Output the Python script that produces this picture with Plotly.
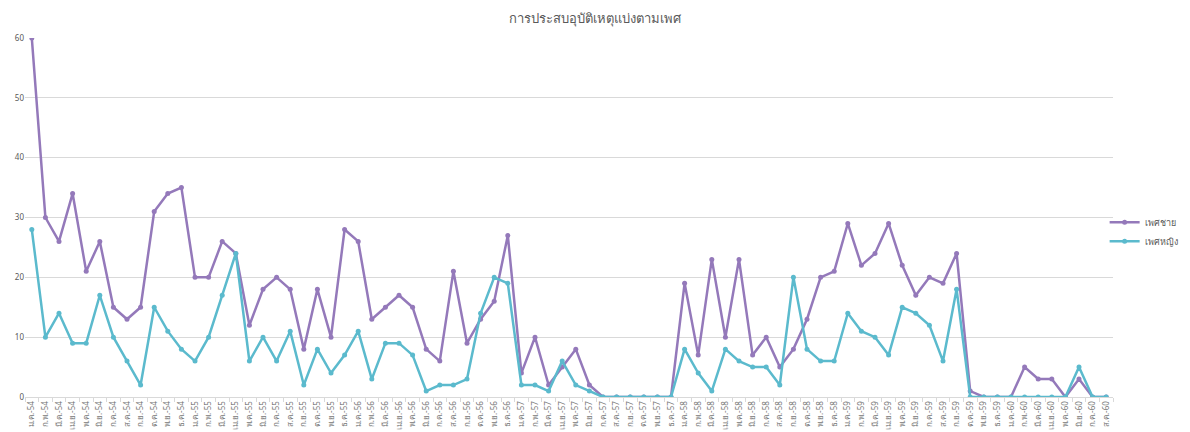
import plotly.graph_objects as go

months = ["ม.ค.", "ก.พ.", "มี.ค.", "เม.ย.", "พ.ค.", "มิ.ย.",
          "ก.ค.", "ส.ค.", "ก.ย.", "ต.ค.", "พ.ย.", "ธ.ค."]
years = ["54", "55", "56", "57", "58", "59", "60"]
categories = [f"{m}-{y}" for y in years for m in months][:80]

male = [60, 30, 26, 34, 21, 26, 15, 13, 15, 31, 34, 35,
        20, 20, 26, 24, 12, 18, 20, 18, 8, 18, 10, 28,
        26, 13, 15, 17, 15, 8, 6, 21, 9, 13, 16, 27,
        4, 10, 2, 5, 8, 2, 0, 0, 0, 0, 0, 0,
        19, 7, 23, 10, 23, 7, 10, 5, 8, 13, 20, 21,
        29, 22, 24, 29, 22, 17, 20, 19, 24, 1, 0, 0,
        0, 5, 3, 3, 0, 3, 0, 0]
female = [28, 10, 14, 9, 9, 17, 10, 6, 2, 15, 11, 8,
          6, 10, 17, 24, 6, 10, 6, 11, 2, 8, 4, 7,
          11, 3, 9, 9, 7, 1, 2, 2, 3, 14, 20, 19,
          2, 2, 1, 6, 2, 1, 0, 0, 0, 0, 0, 0,
          8, 4, 1, 8, 6, 5, 5, 2, 20, 8, 6, 6,
          14, 11, 10, 7, 15, 14, 12, 6, 18, 0, 0, 0,
          0, 0, 0, 0, 0, 5, 0, 0]

font_family = "Noto Sans, DejaVu Sans, sans-serif"

fig = go.Figure()
fig.add_trace(go.Scatter(x=categories, y=male, name="เพศชาย", mode="lines+markers",
                         line=dict(color="#9479BA", width=2.5),
                         marker=dict(size=5, color="#9479BA")))
fig.add_trace(go.Scatter(x=categories, y=female, name="เพศหญิง", mode="lines+markers",
                         line=dict(color="#5BBACD", width=2.5),
                         marker=dict(size=5, color="#5BBACD")))

fig.update_layout(
    width=1190, height=432,
    paper_bgcolor="white", plot_bgcolor="white",
    font=dict(family=font_family, color="#595959", size=9),
    title=dict(text="การประสบอุบัติเหตุแบ่งตามเพศ", x=0.5, xanchor="center",
               y=0.958, yanchor="middle", font=dict(size=13, color="#595959")),
    margin=dict(l=25, r=77, t=38, b=35, autoexpand=False),
    legend=dict(x=1.064, y=0.46, xanchor="right", yanchor="middle",
                font=dict(size=9), bgcolor="rgba(0,0,0,0)", itemwidth=30),
    showlegend=True,
)

fig.update_yaxes(range=[0, 60], dtick=10, showgrid=True, gridcolor="#D9D9D9",
                 gridwidth=1, zeroline=False, showline=False, automargin=False,
                 tickfont=dict(size=8, color="#595959"), ticks="")
fig.update_xaxes(type="category", range=[-0.5, 79.5], tickangle=-90,
                 showgrid=False, showline=True, linecolor="#D9D9D9", linewidth=1,
                 ticks="outside", ticklen=4, tickcolor="#D9D9D9",
                 tickson="boundaries", automargin=False,
                 tickfont=dict(size=8, color="#777777"))

fig.write_html("out.html", config={"displayModeBar": False},
               post_script="document.body.style.margin='0';document.body.style.overflow='hidden';")
